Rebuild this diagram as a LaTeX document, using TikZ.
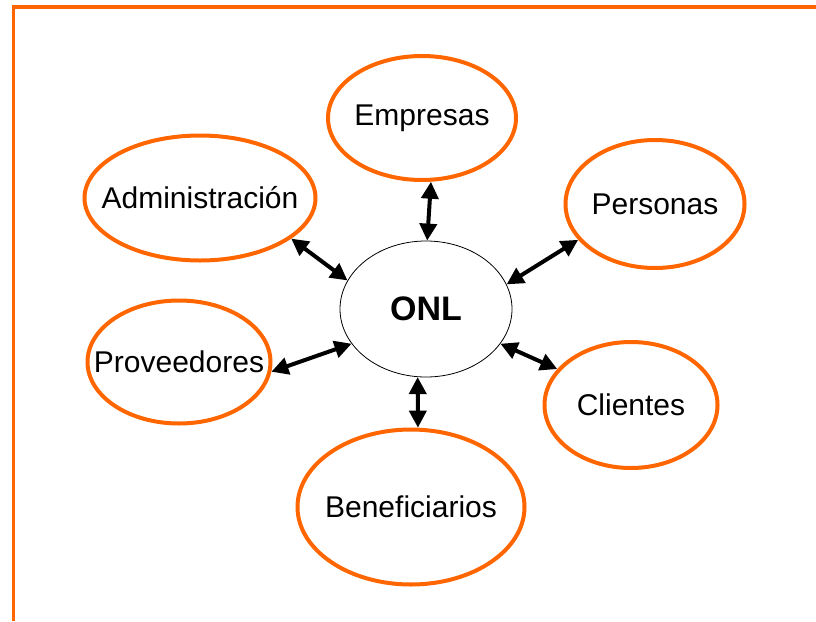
\documentclass[tikz,border=0pt]{standalone}
\usepackage{fontspec}
\setmainfont{Liberation Sans}
\usetikzlibrary{arrows.meta,shapes.geometric}
\definecolor{onlorange}{RGB}{255,102,0}

\begin{document}
\begin{tikzpicture}[x=1pt,y=-1pt,>={Triangle[length=17pt,width=17pt]},
  group/.style={ellipse,draw=onlorange,line width=4pt,inner xsep=-60pt,inner ysep=0pt,font=\fontsize{30}{36}\selectfont},
  link/.style={<->,line width=4pt}]
  \useasboundingbox (0,0) rectangle (816,621);
  \draw[onlorange,line width=3.5pt] (13.5,621) -- (13.5,7) -- (816,7);

  \node[ellipse,draw,line width=0.8pt,minimum width=172pt,minimum height=136pt,inner sep=0pt,font=\fontsize{34}{40}\selectfont\bfseries] (onl) at (426,309) {ONL};
  \node[group,minimum width=188pt,minimum height=124pt] (emp)   at (422,118) {Empresas};
  \node[group,minimum width=231pt,minimum height=125pt] (admin) at (200,198) {Administración};
  \node[group,minimum width=179pt,minimum height=128pt] (pers)  at (655,204) {Personas};
  \node[group,minimum width=183pt,minimum height=123pt] (prov)  at (179,362) {Proveedores};
  \node[group,minimum width=173pt,minimum height=126pt] (cli)   at (631,405) {Clientes};
  \node[group,minimum width=227pt,minimum height=155pt] (benef) at (411,507) {Beneficiarios};

  \path[link] (emp.-82)   edge (onl.89);
  \path[link] (admin.-24) edge (onl.160);
  \path[link] (pers.205)  edge (onl.17);
  \path[link] (prov.-6)   edge (onl.205);
  \path[link] (cli.154)   edge (onl.-25);
  \path[link] (benef.85)  edge (onl.-97);
\end{tikzpicture}
\end{document}
